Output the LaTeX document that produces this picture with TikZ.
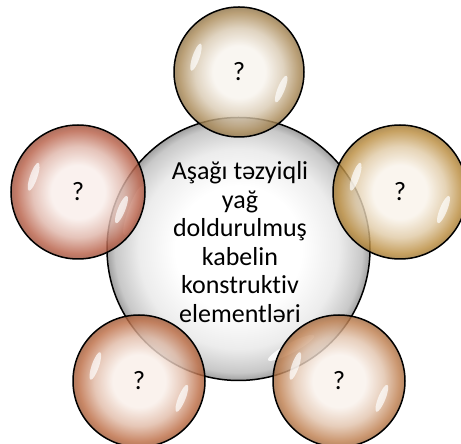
\documentclass[tikz,border=0pt]{standalone}
\usepackage{fontspec}
\setmainfont{Carlito}[Ligatures=NoCommon]
\usetikzlibrary{calc}

\newcommand\mkbubble[3]{%
  \definecolor{#1in}{RGB}{#2}%
  \definecolor{#1out}{RGB}{#3}%
  \colorlet{#1mid}{#1in!60!#1out}%
  \colorlet{#1rim}{#1out!85!black}%
  \pgfdeclareradialshading{#1}{\pgfpoint{0bp}{0bp}}{%
    color(0bp)=(#1in); color(10bp)=(#1in); color(17bp)=(#1mid);
    color(23bp)=(#1out); color(25bp)=(#1rim); color(50bp)=(#1rim)}}
\mkbubble{shTop}{248,244,238}{170,138,88}
\mkbubble{shLeft}{249,238,234}{184,96,72}
\mkbubble{shRight}{249,243,234}{186,140,62}
\mkbubble{shBL}{249,239,233}{188,108,68}
\mkbubble{shBR}{249,241,235}{190,126,78}
\definecolor{cmid}{RGB}{236,236,236}
\definecolor{cout}{RGB}{200,200,200}
\definecolor{crim}{RGB}{160,160,160}
\pgfdeclareradialshading{shCenter}{\pgfpoint{0bp}{0bp}}{%
  color(0bp)=(white); color(12bp)=(white); color(19bp)=(cmid);
  color(23.5bp)=(cout); color(25bp)=(crim); color(50bp)=(crim)}

\newcommand\hilite[4]{% node, radius, angle, distance factor
  \begin{scope}[shift={(#1.center)}, rotate=#3]
    \fill[white, opacity=.7] ({#4*#2},0) ellipse ({0.055*#2} and {0.22*#2});
  \end{scope}}

\begin{document}
\begin{tikzpicture}[x=1pt,y=1pt,
  bubble/.style={circle, draw=black, line width=1.5pt, inner sep=0pt,
     fill opacity=.82, text opacity=1, font=\fontsize{26.5}{30}\selectfont},
  centertext/.style={align=center, font=\fontsize{26}{28.6}\selectfont, inner sep=0pt}]
\useasboundingbox (0,0) rectangle (461,444);
\clip (0,0) rectangle (461,444);

% central bubble
\node[circle, draw=black, line width=1.5pt, inner sep=0pt, minimum size=263pt,
      shading=shCenter] (c) at (238.5,195) {};
\begin{scope}[shift={(c.center)}, rotate=160]
  \fill[white, opacity=.85] (112,0) ellipse (5 and 26);
\end{scope}
\begin{scope}[shift={(c.center)}, rotate=-62]
  \fill[white, opacity=.85] (112,0) ellipse (5 and 26);
\end{scope}

% satellites
\node[bubble, minimum size=130pt, shading=shTop]   (t)  at (239,372) {?};
\node[bubble, minimum size=134pt, shading=shLeft]  (l)  at (78,252)  {?};
\node[bubble, minimum size=134pt, shading=shRight] (r)  at (400,252) {?};
\node[bubble, minimum size=132pt, shading=shBL]    (bl) at (139,63)  {?};
\node[bubble, minimum size=132pt, shading=shBR]    (br) at (339,63)  {?};

\foreach \n/\rr in {t/65,l/67,r/67,bl/66,br/66}{
  \hilite{\n}{\rr}{161}{0.7}
  \hilite{\n}{\rr}{-22}{0.7}
}

\node[centertext] (txt) at (240,202)
  {Aşağı təzyiqli\\yağ\\doldurulmuş\\kabelin\\konstruktiv\\elementləri};
\end{tikzpicture}
\end{document}
